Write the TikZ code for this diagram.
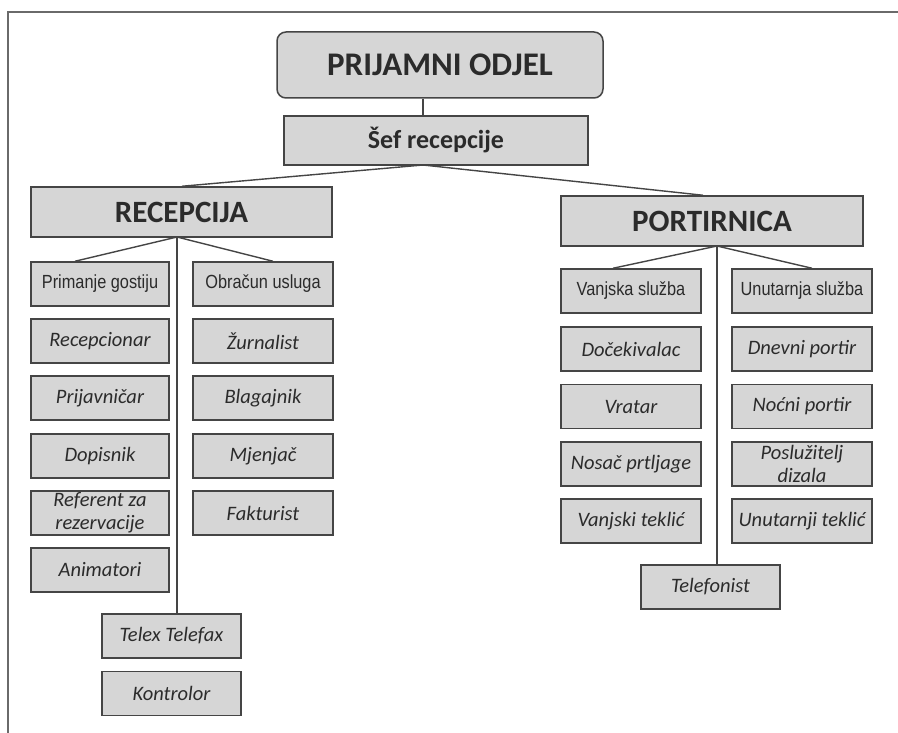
\documentclass[tikz,border=0pt]{standalone}
\usepackage{fontspec}
\setmainfont{Carlito}
\newfontfamily\narrowsans[FakeStretch=0.86]{Liberation Sans}
\definecolor{boxfill}{HTML}{D6D6D6}
\definecolor{boxdraw}{HTML}{454545}
\definecolor{txt}{HTML}{2B2B2B}
\definecolor{framec}{HTML}{6A6A6A}
\begin{document}
\begin{tikzpicture}[x=1pt,y=-1pt,
  box/.style={draw=boxdraw, fill=boxfill, line width=1.5pt, inner sep=0pt, text=txt, align=center},
  itbox/.style={box, minimum width=139pt, minimum height=44pt, font=\fontsize{20.5}{23}\selectfont\itshape},
  plbox/.style={box, minimum width=139pt, minimum height=44pt, font=\narrowsans\fontsize{19}{22}\selectfont},
  headbox/.style={box, font=\fontsize{31}{36}\selectfont\bfseries},
  conn/.style={draw=boxdraw, line width=1.4pt}]
\useasboundingbox (0,0) rectangle (898,733);
% frame (right and bottom edges outside the picture)
\draw[framec, line width=1.5pt] (8,733) -- (8,12) -- (898,12);

% top levels
\node[box, rounded corners=9pt, minimum width=326pt, minimum height=66pt, font=\fontsize{33}{38}\selectfont\bfseries] (top) at (440,65) {PRIJAMNI ODJEL};
\node[box, minimum width=304pt, minimum height=49pt, font=\fontsize{26}{30}\selectfont\bfseries] (sef) at (436,140.5) {Šef recepcije};
\node[headbox, minimum width=301pt, minimum height=50pt] (rec) at (181.5,212) {RECEPCIJA};
\node[headbox, minimum width=302pt, minimum height=50pt] (port) at (712,221) {PORTIRNICA};

% recepcija columns
\node[plbox, minimum width=138pt] (prim) at (100,284) {Primanje gostiju};
\node[itbox, minimum width=138pt] (recp) at (100,341) {Recepcionar};
\node[itbox, minimum width=138pt] (prij) at (100,398) {Prijavničar};
\node[itbox, minimum width=138pt] (dop) at (100,456) {Dopisnik};
\node[itbox, minimum width=138pt] (ref) at (100,513) {Referent za\\rezervacije};
\node[itbox, minimum width=138pt] (anim) at (100,570) {Animatori};

\node[plbox, minimum width=140pt] (obr) at (263,284) {Obračun usluga};
\node[itbox, minimum width=140pt] (zur) at (263,341) {Žurnalist};
\node[itbox, minimum width=140pt] (blag) at (263,398) {Blagajnik};
\node[itbox, minimum width=140pt] (mjen) at (263,456) {Mjenjač};
\node[itbox, minimum width=140pt] (fakt) at (263,513) {Fakturist};

\node[itbox] (telex) at (171.5,636) {Telex Telefax};
\node[itbox] (kontr) at (171.5,693.5) {Kontrolor};

% portirnica columns
\node[plbox, minimum width=140pt] (vanj) at (631,291) {Vanjska služba};
\node[itbox, minimum width=140pt] (doc) at (631,349) {Dočekivalac};
\node[itbox, minimum width=140pt] (vrat) at (631,406.5) {Vratar};
\node[itbox, minimum width=140pt] (nos) at (631,464) {Nosač prtljage};
\node[itbox, minimum width=140pt] (vtek) at (631,521) {Vanjski teklić};

\node[plbox, minimum width=140pt] (unut) at (802,291) {Unutarnja služba};
\node[itbox, minimum width=140pt] (dnev) at (802,349) {Dnevni portir};
\node[itbox, minimum width=140pt] (noc) at (802,406.5) {Noćni portir};
\node[itbox, minimum width=140pt] (posl) at (802,464) {Poslužitelj\\dizala};
\node[itbox, minimum width=140pt] (utek) at (802,521) {Unutarnji teklić};

\node[itbox] (telef) at (710.5,587) {Telefonist};

% junction coordinates
\coordinate (js) at (423,165);
\coordinate (jr) at (177,237);
\coordinate (jp) at (717,246);

% connectors
\draw[conn] (js |- top.south) -- (js |- sef.north);
\draw[conn] (js) -- (rec.north -| 182,0);
\draw[conn] (js) -- (port.north -| 703,0);
\draw[conn] (jr) -- (prim.north -| 75,0);
\draw[conn] (jr) -- (obr.north -| 273,0);
\draw[conn] (jr) -- (jr |- telex.north);
\draw[conn] (jp) -- (vanj.north -| 613,0);
\draw[conn] (jp) -- (unut.north -| 812,0);
\draw[conn] (jp) -- (jp |- telef.north);
\end{tikzpicture}
\end{document}
